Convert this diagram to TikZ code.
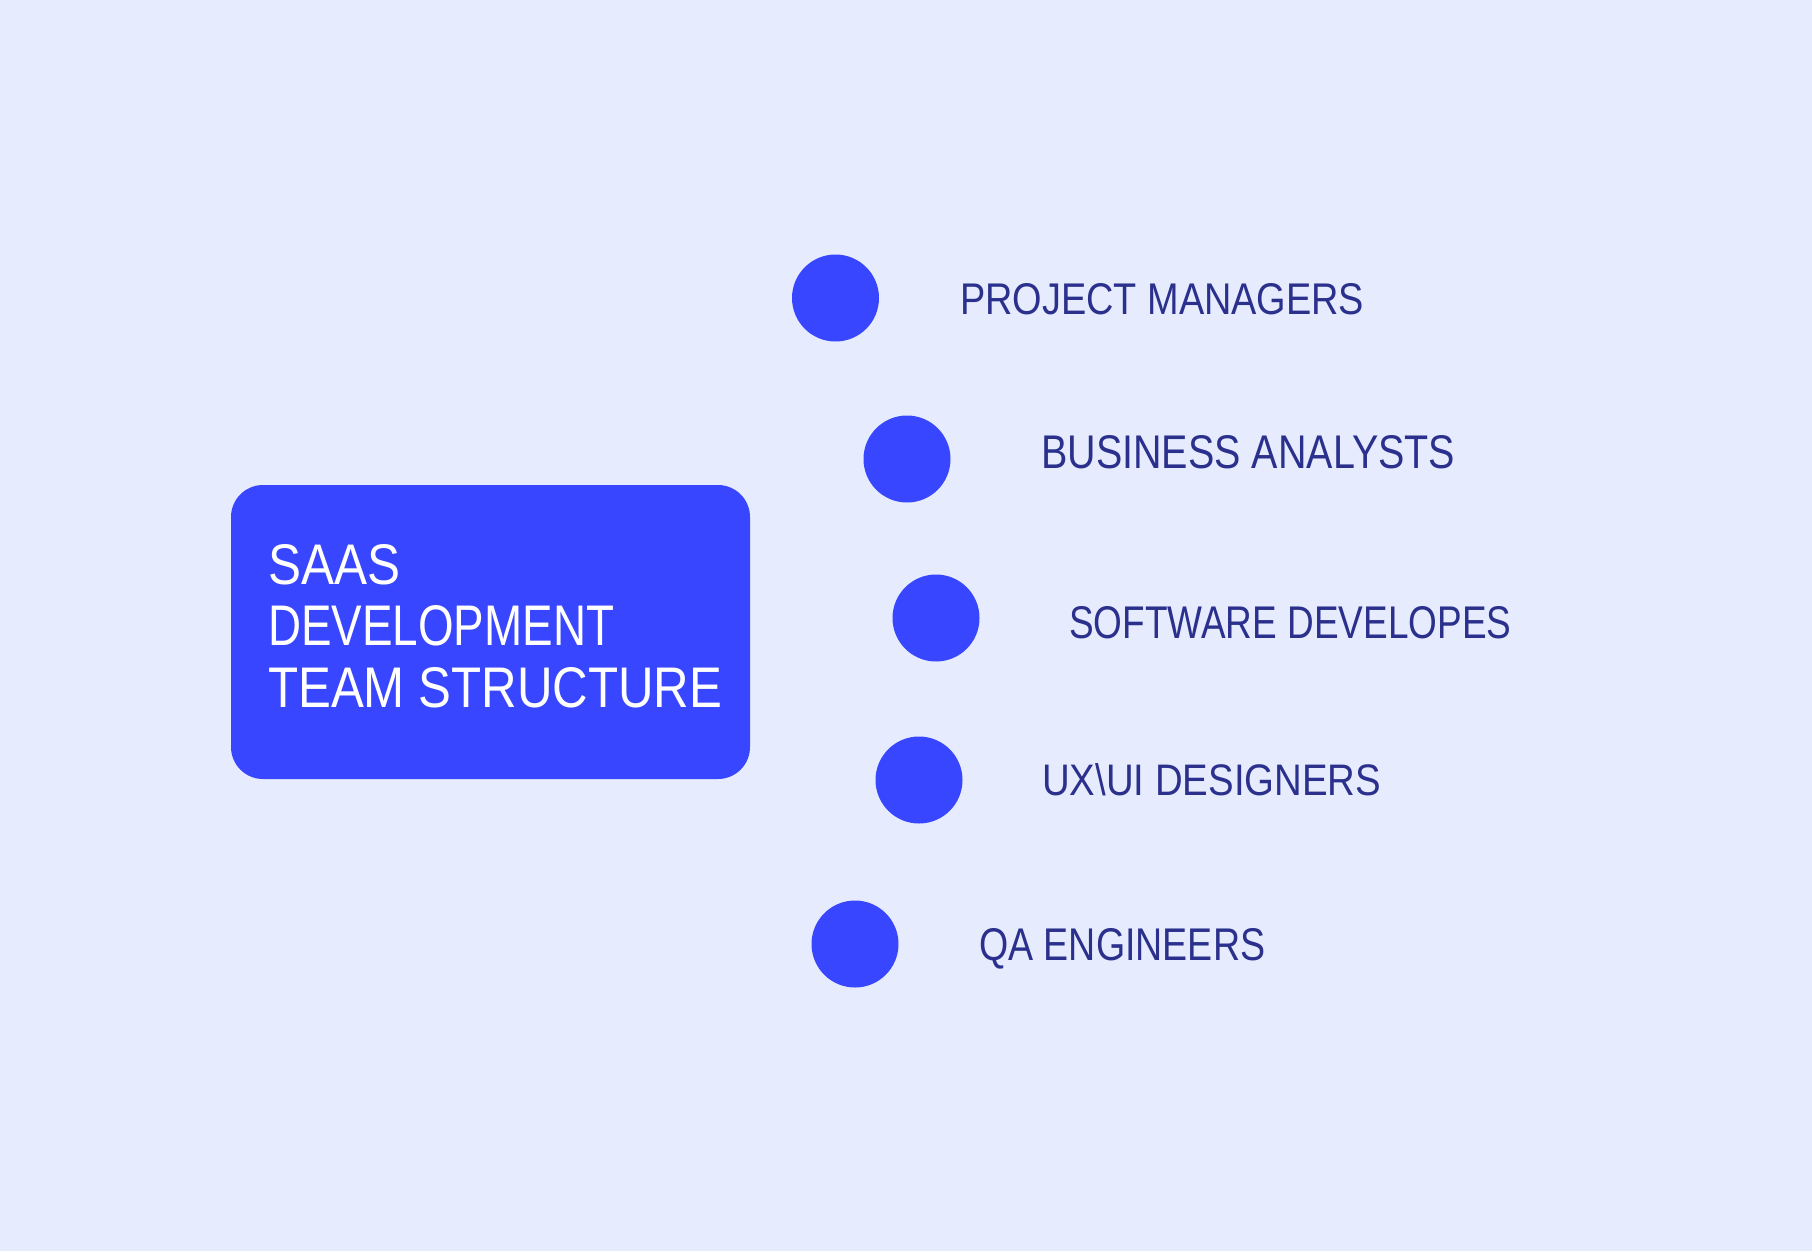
\documentclass[tikz,border=0pt]{standalone}
\usepackage{fontspec}
\usepackage{graphicx}
\setmainfont{Liberation Sans}
\definecolor{bgc}{RGB}{230,236,254}
\definecolor{dotblue}{RGB}{56,70,255}
\definecolor{navy}{RGB}{42,48,140}
\newcommand{\fitw}[3]{\resizebox{#1pt}{#2pt}{#3}}
\tikzset{
  dotnode/.style={circle, fill=dotblue, draw=none, minimum size=87pt, inner sep=0pt},
  lbl/.style={anchor=base west, inner sep=0pt, text=navy},
  ttl/.style={anchor=base west, inner sep=0pt, text=white},
  titlebox/.style={rectangle, fill=dotblue, draw=none, rounded corners=32pt, minimum width=519pt, minimum height=294pt, inner sep=0pt}
}
\begin{document}
\begin{tikzpicture}[x=1pt,y=-1pt]
\fill[bgc] (0,0) rectangle (1812,1251);
\useasboundingbox (0,0) rectangle (1812,1251);
% title box
\node[titlebox] (box) at (490.5,632) {};
\node[ttl] (t1) at (268,584) {\fitw{132}{40}{SAAS}};
\node[ttl] (t2) at (268,645) {\fitw{346}{40}{DEVELOPMENT}};
\node[ttl] (t3) at (268,707) {\fitw{454}{40}{TEAM STRUCTURE}};
% dots
\node[dotnode] (c1) at (835.5,298) {};
\node[dotnode] (c2) at (907,459) {};
\node[dotnode] (c3) at (936,618) {};
\node[dotnode] (c4) at (919,780) {};
\node[dotnode] (c5) at (855,944) {};
% labels
\node[lbl] (l1) at (960,314) {\fitw{404}{31}{PROJECT MANAGERS}};
\node[lbl] (l2) at (1041,468) {\fitw{414}{33}{BUSINESS ANALYSTS}};
\node[lbl] (l3) at (1069,638) {\fitw{442}{32}{SOFTWARE DEVELOPES}};
\node[lbl] (l4) at (1042,795) {\fitw{339}{32}{UX\textbackslash UI DESIGNERS}};
\node[lbl] (l5) at (979,960) {\fitw{286}{32}{QA ENGINEERS}};
\end{tikzpicture}
\end{document}
